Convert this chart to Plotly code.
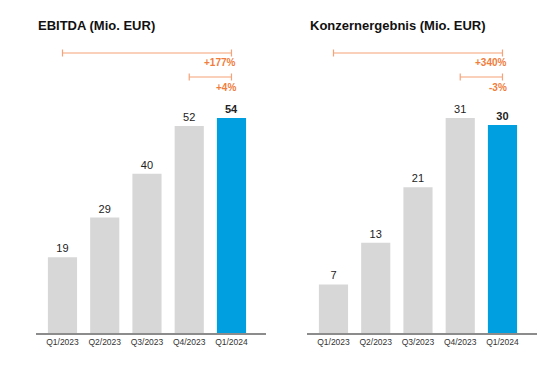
import plotly.graph_objects as go

categories = ["Q1/2023", "Q2/2023", "Q3/2023", "Q4/2023", "Q1/2024"]
ebitda = [19, 29, 40, 52, 54]
konzern = [7, 13, 21, 31, 30]
ebitda_changes = ["+177%", "+4%"]
konzern_changes = ["+340%", "-3%"]
titles = ["EBITDA (Mio. EUR)", "Konzernergebnis (Mio. EUR)"]

GRAY = "#d6d7d6"
BLUE = "#009fe0"
ORANGE_LINE = "#f6a278"
ORANGE_TEXT = "#f07d3c"
FONT = "Liberation Sans, Arial, sans-serif"

fig = go.Figure()

def labels(vals):
    out = [str(v) for v in vals]
    out[-1] = "<b>" + out[-1] + "</b>"
    return out

for i, vals in enumerate([ebitda, konzern]):
    ax = "" if i == 0 else "2"
    fig.add_trace(go.Bar(
        x=categories, y=vals,
        marker=dict(color=[GRAY] * (len(vals) - 1) + [BLUE], line=dict(width=0)),
        width=0.69,
        text=labels(vals), textposition="outside", cliponaxis=False,
        textfont=dict(size=11, color="#222222", family=FONT),
        xaxis="x" + ax, yaxis="y" + ax, showlegend=False, hoverinfo="skip",
    ))

base_frac = (369 - 333) / 369
xr = [-0.627, 4.817]
common_x = dict(type="category", range=xr, showline=True, linecolor="#8c8c8c", linewidth=1.5,
                ticks="", showgrid=False, zeroline=False,
                tickfont=dict(size=8.5, color="#333333", family=FONT))
common_y = dict(showticklabels=False, showgrid=False, zeroline=False, showline=False)

fig.update_layout(
    width=556, height=369, margin=dict(l=0, r=0, t=0, b=0),
    paper_bgcolor="white", plot_bgcolor="white",
    bargap=0.3,
    xaxis=dict(domain=[36 / 556, 266 / 556], anchor="y", **common_x),
    xaxis2=dict(domain=[307 / 556, 537 / 556], anchor="y2", **common_x),
    yaxis=dict(domain=[base_frac, 1], range=[0, max(ebitda) * 333 / 215], anchor="x", **common_y),
    yaxis2=dict(domain=[base_frac, 1], range=[0, max(konzern) * 333 / 215], anchor="x2", **common_y),
)

def py(px):
    return 1 - px / 369

shapes = []
annotations = []
for i, changes in enumerate([ebitda_changes, konzern_changes]):
    xref = "x" if i == 0 else "x2"
    for (x0, x1, ypx, lbl_ypx, lbl) in [(0, 4, 53, 62, changes[0]), (3, 4, 77, 88, changes[1])]:
        shapes.append(dict(type="line", xref=xref, yref="paper", x0=x0, x1=x1, y0=py(ypx), y1=py(ypx),
                           line=dict(color=ORANGE_LINE, width=1.2)))
        for xx in (x0, x1):
            shapes.append(dict(type="line", xref=xref, yref="paper", x0=xx, x1=xx,
                               y0=py(ypx - 3.5), y1=py(ypx + 3.5),
                               line=dict(color=ORANGE_LINE, width=1.2)))
        annotations.append(dict(xref=xref, yref="paper", x=4, y=py(lbl_ypx), xanchor="right",
                                yanchor="middle", xshift=7, text="<b>" + lbl + "</b>", showarrow=False,
                                font=dict(size=10, color=ORANGE_TEXT, family=FONT)))

annotations.append(dict(xref="paper", yref="paper", x=36 / 556, y=py(25), xanchor="left", yanchor="middle",
                        text="<b>" + titles[0] + "</b>", showarrow=False,
                        font=dict(size=13, color="#111111", family=FONT)))
annotations.append(dict(xref="paper", yref="paper", x=308 / 556, y=py(25), xanchor="left", yanchor="middle",
                        text="<b>" + titles[1] + "</b>", showarrow=False,
                        font=dict(size=13, color="#111111", family=FONT)))

fig.update_layout(shapes=shapes, annotations=annotations)
fig.write_html("out.html", config={"displayModeBar": False},
               post_script="document.body.style.margin='0';")
